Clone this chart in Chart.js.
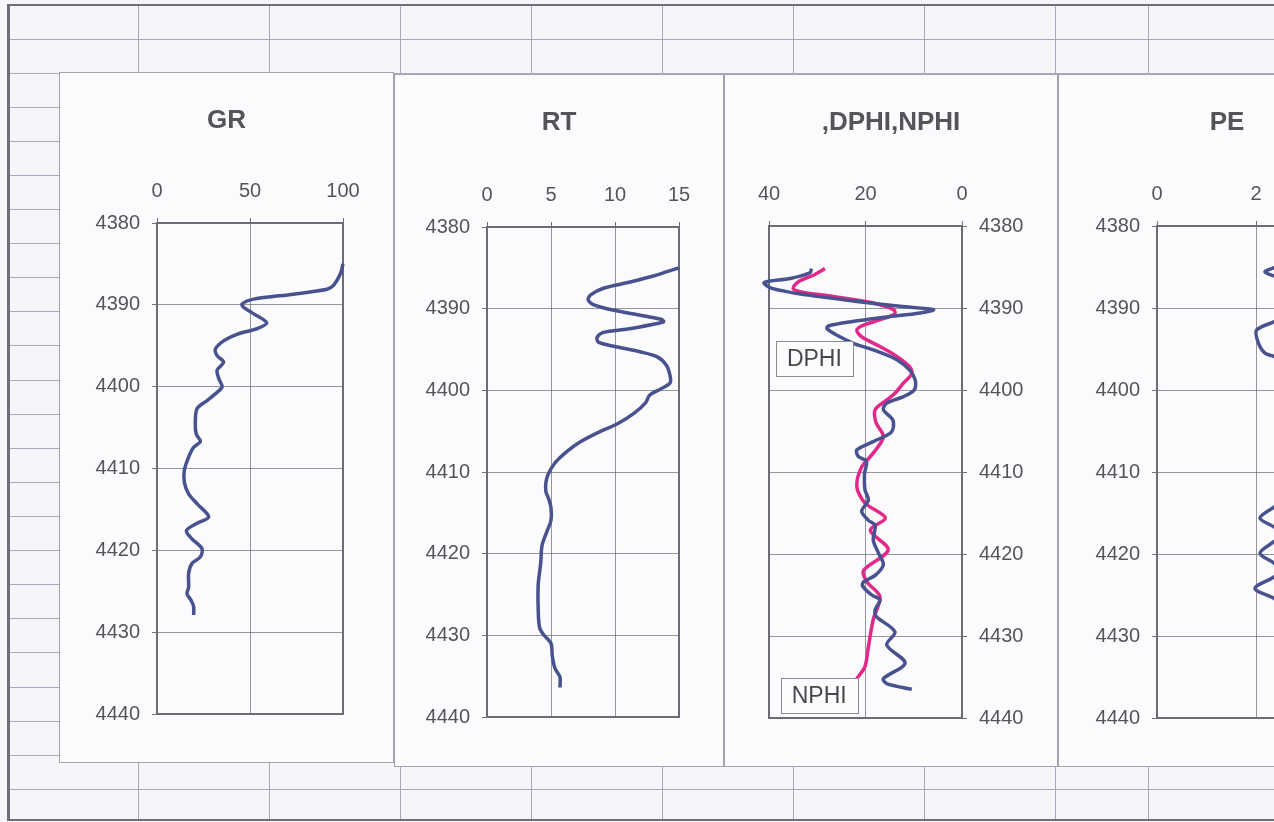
<!DOCTYPE html>
<html>
<head>
<meta charset="utf-8">
<title>Well log tracks</title>
<script src="https://cdn.jsdelivr.net/npm/chart.js@4.4.1/dist/chart.umd.min.js"></script>
<style>
  html, body { margin: 0; padding: 0; width: 1274px; height: 822px; overflow: hidden; background: #f6f6fa; }
  #sheet { position: absolute; left: 0; top: 0; width: 1274px; height: 822px; }
  .hl { position: absolute; height: 1px; background: #a9a9bb; }
  .vl { position: absolute; width: 1px; background: #a9a9bb; }
  .edge { position: absolute; background: #6f6f7c; }
  .panel { position: absolute; background: #fbfbfd; border: 1px solid #a2a2b0; box-sizing: border-box; }
  .panel canvas { position: absolute; left: -1px; top: -1px; }
</style>
</head>
<body>
<div id="sheet"></div>
<div class="panel" id="trackGR"></div>
<div class="panel" id="trackRT"></div>
<div class="panel" id="trackPHI"></div>
<div class="panel" id="trackPE"></div>

<script>
// ---- depth axis ----
const depthMin = 4380;
const depthMax = 4440;
const depthStep = 10;

// ---- GR (gamma ray) ----
const grDepth = [4385.0, 4386.2, 4387.6, 4388.1, 4388.7, 4389.3, 4389.9, 4390.3, 4391.1, 4392.2, 4392.9,
  4393.6, 4394.4, 4395.4, 4396.2, 4397.0, 4398.0, 4399.0, 4400.0, 4400.7, 4401.7, 4402.7, 4404.5, 4405.8,
  4406.7, 4407.4, 4408.6, 4410.2, 4411.7, 4413.1, 4414.3, 4415.9, 4416.7, 4417.6, 4418.6, 4419.8, 4420.8,
  4421.6, 4422.8, 4424.5, 4425.3, 4426.1, 4426.9, 4427.9];
const grValue = [100, 98.6, 95, 91.4, 73.5, 52, 45.7, 46.6, 52, 59, 53.8,
  43, 35.8, 31.4, 32.3, 35.8, 32.3, 33.2, 35, 32.3, 26.9, 21.5, 20.6, 21.1,
  23.3, 19.7, 17, 14.7, 14.7, 17, 21.5, 27.8, 21.5, 15.8, 18.8, 24.2, 23.3,
  18.8, 17, 17, 16.1, 18.3, 19.7, 19.7];

// ---- RT (true resistivity) ----
const rtDepth = [4385.0, 4386.0, 4386.8, 4387.5, 4388.3, 4388.9, 4389.5, 4390.2, 4390.8, 4391.3, 4391.6,
  4391.9, 4392.5, 4392.9, 4393.5, 4394.1, 4394.6, 4395.3, 4395.9, 4396.9, 4398.2, 4399.1, 4399.8, 4400.6,
  4401.5, 4402.8, 4404.1, 4405.0, 4406.3, 4407.8, 4408.9, 4410.2, 4411.3, 4412.4, 4413.2, 4414.4, 4415.9,
  4417.2, 4419.0, 4421.1, 4423.8, 4426.8, 4429.0, 4429.9, 4431.0, 4432.5, 4434.0, 4435.1, 4436.4];
const rtValue = [15.0, 13.0, 11.0, 9.1, 8.1, 7.9, 8.3, 9.9, 12.0, 13.6, 13.8,
  13.0, 11.0, 9.1, 8.6, 8.7, 9.9, 12.0, 13.3, 14.0, 14.3, 14.3, 13.6, 12.7,
  12.4, 11.5, 10.2, 8.9, 7.3, 6.0, 5.3, 4.8, 4.6, 4.6, 4.8, 5.0, 5.0,
  4.7, 4.3, 4.2, 4.0, 4.0, 4.1, 4.4, 5.0, 5.1, 5.3, 5.7, 5.7];

// ---- DPHI (density porosity) ----
const dphiDepth = [4385.2, 4385.7, 4386.4, 4386.9, 4387.6, 4388.4, 4389.2, 4389.8, 4390.2, 4390.6, 4391.1,
  4391.7, 4392.2, 4392.5, 4393.3, 4394.3, 4395.1, 4396.3, 4397.6, 4398.8, 4400.0, 4400.8, 4401.6, 4402.4,
  4403.7, 4405.1, 4406.3, 4407.3, 4408.1, 4408.7, 4410.2, 4412.2, 4413.4, 4414.8, 4415.9, 4416.5, 4418.3,
  4419.9, 4421.3, 4422.6, 4423.4, 4423.9, 4425.0, 4425.6, 4426.8, 4427.6, 4429.5, 4431.1, 4433.3, 4435.2,
  4435.8, 4436.5];
const dphiValue = [31.2, 31.5, 35.6, 41.0, 39.4, 32.2, 21.8, 12.8, 5.9, 8.7, 15.6,
  23.2, 27.7, 28.0, 26.0, 22.5, 18.4, 13.5, 10.8, 9.7, 9.9, 12.1, 15.6, 16.3,
  14.3, 14.6, 18.4, 21.8, 21.5, 19.8, 20.2, 20.1, 19.4, 20.8, 19.4, 18.0, 18.4,
  17.3, 16.3, 18.0, 20.4, 20.6, 18.7, 17.0, 18.0, 17.8, 13.9, 15.6, 11.8, 16.3,
  15.6, 10.4];

// ---- NPHI (neutron porosity) ----
const nphiDepth = [4385.2, 4386.0, 4386.8, 4387.6, 4388.0, 4388.6, 4389.4, 4390.2, 4390.7, 4391.3, 4392.1,
  4392.7, 4393.5, 4394.7, 4395.9, 4397.2, 4398.0, 4399.2, 4400.4, 4401.3, 4402.4, 4404.0, 4405.7, 4407.7,
  4409.4, 4411.8, 4413.8, 4415.6, 4417.1, 4419.5, 4422.0, 4423.4, 4425.2, 4428.0, 4431.3, 4433.7, 4435.2];
const nphiValue = [28.4, 30.8, 33.9, 35.0, 33.6, 26.7, 18.4, 14.2, 13.9, 16.3, 20.4,
  21.8, 20.8, 17.0, 13.5, 10.8, 10.4, 12.2, 13.9, 15.8, 18.0, 17.8, 16.3, 18.4,
  20.8, 21.8, 20.1, 15.9, 19.0, 15.3, 20.4, 19.7, 17.0, 18.4, 19.4, 20.1, 21.8];

// ---- PE (photoelectric factor) ----
const peDepth = [4385.0, 4385.6, 4386.3, 4387.5, 4389.5, 4391.0, 4391.7, 4392.7, 4394.3, 4395.5, 4395.9,
  4397.0, 4399.0, 4402.0, 4405.0, 4408.0, 4411.0, 4413.5, 4414.3, 4415.6, 4416.7, 4417.6, 4418.5, 4419.9,
  4421.1, 4422.0, 4422.8, 4424.2, 4425.4, 4427.0, 4430.0, 4433.0, 4436.0];
const peValue = [2.4, 2.18, 2.45, 2.8, 3.0, 2.6, 2.36, 2.01, 2.05, 2.18, 2.36,
  2.7, 3.1, 2.9, 3.2, 2.9, 3.0, 2.6, 2.36, 2.08, 2.36, 2.55, 2.36, 2.08,
  2.36, 2.5, 2.36, 1.98, 2.36, 2.7, 2.9, 2.7, 2.8];

// ---- track titles and value scales [min, max, step] ----
const trackTitles = ['GR', 'RT', ',DPHI,NPHI', 'PE'];
const grScale = [0, 100, 50];
const rtScale = [0, 15, 5];
const phiScale = [0, 40, 20];
const peScale = [0, 4, 2];

// ---- curve name tags in the porosity track ----
const phiTagText = ['DPHI', 'NPHI'];
const phiTagValue = [30.6, 29.6];
const phiTagDepth = [4396.2, 4437.3];

// ---------------------------------------------------------------
// worksheet cell grid behind the chart panels
(function drawSheet() {
  const sheet = document.getElementById('sheet');
  const cols = [138, 269, 400, 531, 662, 793, 924, 1055, 1148];
  const rowTop = 38.5, rowPitch = 34.11, rowCount = 23;
  for (let i = 0; i < rowCount; i++) {
    const d = document.createElement('div');
    d.className = 'hl';
    d.style.left = '8px'; d.style.width = '1266px';
    d.style.top = Math.round(rowTop + i * rowPitch) + 'px';
    sheet.appendChild(d);
  }
  cols.forEach(x => {
    const d = document.createElement('div');
    d.className = 'vl';
    d.style.left = x + 'px'; d.style.top = '5px'; d.style.height = '815px';
    sheet.appendChild(d);
  });
  const edges = [
    { left: 7, top: 4, width: 1267, height: 2 },
    { left: 7, top: 4, width: 3, height: 817 },
    { left: 7, top: 819, width: 1267, height: 2 }
  ];
  edges.forEach(e => {
    const d = document.createElement('div');
    d.className = 'edge';
    Object.keys(e).forEach(k => d.style[k] = e[k] + 'px');
    sheet.appendChild(d);
  });
})();

// ---------------------------------------------------------------
const FONT = "'Liberation Sans', Arial, Helvetica, sans-serif";
const TEXT_COLOR = '#54545c';
const GRID_COLOR = 'rgba(105,105,118,0.7)';
const CURVE_BLUE = '#47528f';
const CURVE_PINK = '#e3288a';
const TITLE_SIZE = 26;
const TITLE_PAD_TOP = 33;
const TITLE_BLOCK = TITLE_PAD_TOP + TITLE_SIZE * 1.2;
const TICK_SIZE = 20;

// dark frame around the plot area
const framePlugin = {
  id: 'plotFrame',
  afterLayout(chart) {
    // keep each track title centred on its whole panel
    const t = chart.titleBlock;
    if (t) { t.left = 0; t.right = chart.width; t.width = chart.width; }
  },
  beforeDatasetsDraw(chart) {
    const a = chart.chartArea, ctx = chart.ctx;
    ctx.save();
    ctx.strokeStyle = '#6c6c76';
    ctx.lineWidth = 2;
    ctx.strokeRect(a.left, a.top, a.right - a.left, a.bottom - a.top);
    ctx.restore();
  }
};

// boxed curve names placed at value/depth positions
const tagPlugin = {
  id: 'curveTags',
  afterDatasetsDraw(chart, args, opts) {
    if (!opts || !opts.text) return;
    const ctx = chart.ctx, xs = chart.scales.x, ys = chart.scales.y;
    ctx.save();
    ctx.font = '23px ' + FONT;
    ctx.textAlign = 'center';
    ctx.textBaseline = 'middle';
    opts.text.forEach((t, i) => {
      const cx = xs.getPixelForValue(opts.value[i]);
      const cy = ys.getPixelForValue(opts.depth[i]);
      const w = ctx.measureText(t).width + 22, h = 35;
      ctx.fillStyle = '#fcfcfd';
      ctx.fillRect(cx - w / 2, cy - h / 2, w, h);
      ctx.strokeStyle = '#8c8c96';
      ctx.lineWidth = 1;
      ctx.strokeRect(Math.round(cx - w / 2) + 0.5, Math.round(cy - h / 2) + 0.5, Math.round(w), h);
      ctx.fillStyle = '#47474f';
      ctx.fillText(t, cx, cy + 1);
    });
    ctx.restore();
  }
};

function curve(depths, values, color) {
  return {
    data: depths.map((d, i) => ({ x: values[i], y: d })),
    borderColor: color,
    borderWidth: 3.5,
    pointRadius: 0,
    tension: 0.3,
    showLine: true,
    fill: false,
    clip: false
  };
}

// geometry: panel box (page px) and plot rectangle (page px)
function logTrack(id, panel, plot, title, scale, datasets, extra) {
  extra = extra || {};
  const el = document.getElementById(id);
  el.style.left = panel.left + 'px';
  el.style.top = panel.top + 'px';
  el.style.width = panel.w + 'px';
  el.style.height = panel.h + 'px';
  const canvas = document.createElement('canvas');
  canvas.width = panel.w;
  canvas.height = panel.h;
  el.appendChild(canvas);

  const relL = plot.left - panel.left, relR = plot.right - panel.left;
  const relT = plot.top - panel.top, relB = plot.bottom - panel.top;
  const yRight = !!extra.yRight;
  const padL = yRight ? relL : 0;
  const padR = yRight ? 0 : panel.w - relR;
  const yWidth = yRight ? panel.w - relR : relL;
  const xHeight = relT - TITLE_BLOCK;

  new Chart(canvas, {
    type: 'scatter',
    data: { datasets },
    options: {
      responsive: false,
      animation: false,
      devicePixelRatio: 1,
      layout: { padding: { left: padL, right: padR, top: 0, bottom: panel.h - relB } },
      plugins: {
        legend: { display: false },
        tooltip: { enabled: false },
        title: {
          display: true,
          text: title,
          color: TEXT_COLOR,
          font: { family: FONT, size: TITLE_SIZE, weight: 'bold' },
          padding: { top: TITLE_PAD_TOP, bottom: 0 }
        },
        curveTags: extra.tags || {}
      },
      scales: {
        x: {
          type: 'linear',
          position: 'top',
          min: scale[0], max: scale[1],
          reverse: !!extra.xReverse,
          afterFit: s => { s.height = xHeight; },
          border: { display: false },
          grid: { color: GRID_COLOR, lineWidth: 1, drawTicks: true, tickLength: 5, tickColor: '#707078' },
          ticks: {
            stepSize: scale[2], padding: 15, color: TEXT_COLOR, maxRotation: 0,
            font: { family: FONT, size: TICK_SIZE },
            callback: v => String(v)
          }
        },
        y: {
          type: 'linear',
          position: yRight ? 'right' : 'left',
          min: depthMin, max: depthMax,
          reverse: true,
          afterFit: s => { s.width = yWidth; },
          border: { display: false },
          grid: { color: GRID_COLOR, lineWidth: 1, drawTicks: true, tickLength: 5, tickColor: '#707078' },
          ticks: {
            stepSize: depthStep, padding: 12, color: TEXT_COLOR,
            font: { family: FONT, size: TICK_SIZE },
            callback: v => String(v)
          }
        }
      }
    },
    plugins: [framePlugin, tagPlugin]
  });
}

logTrack('trackGR',
  { left: 59, top: 72, w: 335, h: 691 },
  { left: 157, right: 343, top: 223, bottom: 714 },
  trackTitles[0], grScale,
  [curve(grDepth, grValue, CURVE_BLUE)]);

logTrack('trackRT',
  { left: 394, top: 74, w: 330, h: 693 },
  { left: 487, right: 679, top: 227, bottom: 717 },
  trackTitles[1], rtScale,
  [curve(rtDepth, rtValue, CURVE_BLUE)]);

logTrack('trackPHI',
  { left: 724, top: 74, w: 334, h: 693 },
  { left: 769, right: 962, top: 226, bottom: 718 },
  trackTitles[2], phiScale,
  [curve(dphiDepth, dphiValue, CURVE_BLUE), curve(nphiDepth, nphiValue, CURVE_PINK)],
  { xReverse: true, yRight: true, tags: { text: phiTagText, value: phiTagValue, depth: phiTagDepth } });

logTrack('trackPE',
  { left: 1058, top: 74, w: 338, h: 693 },
  { left: 1157, right: 1355, top: 226, bottom: 718 },
  trackTitles[3], peScale,
  [curve(peDepth, peValue, CURVE_BLUE)]);
</script>
</body>
</html>
